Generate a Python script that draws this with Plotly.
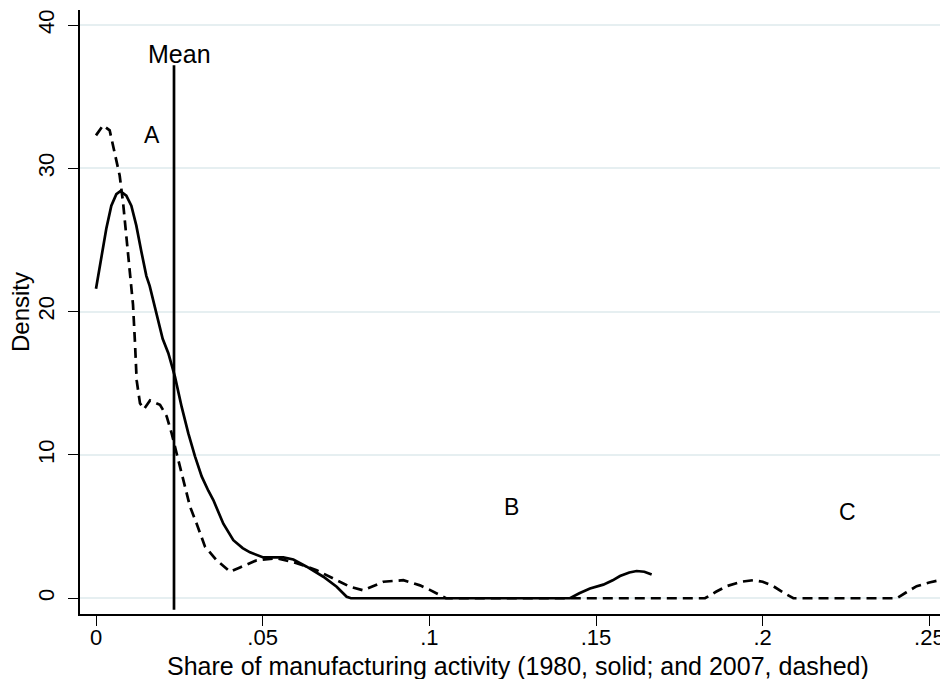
import plotly.graph_objects as go

# 1980 density (solid)
x1980 = [0.0, 0.0016, 0.0031, 0.0046, 0.0061, 0.0073, 0.0091, 0.0106, 0.0121, 0.0136,
         0.0151, 0.0161, 0.0172, 0.0187, 0.0200, 0.0217, 0.0237, 0.0257, 0.0277, 0.0297,
         0.0317, 0.0337, 0.0352, 0.0382, 0.0412, 0.0440, 0.0462, 0.0502, 0.0562, 0.0592,
         0.0632, 0.0682, 0.0722, 0.0752, 0.0765, 0.1000, 0.1200, 0.1422, 0.1450, 0.1482,
         0.1522, 0.1550, 0.1572, 0.1600, 0.1622, 0.1645, 0.1667]
y1980 = [21.6, 23.9, 25.8, 27.4, 28.2, 28.4, 28.1, 27.4, 26.0, 24.2,
         22.5, 21.8, 20.8, 19.4, 18.1, 17.1, 15.45, 13.35, 11.5, 9.9,
         8.5, 7.5, 6.85, 5.2, 4.05, 3.5, 3.2, 2.85, 2.85, 2.7,
         2.2, 1.5, 0.8, 0.1, 0.0, 0.0, 0.0, 0.0, 0.35, 0.68,
         0.95, 1.25, 1.55, 1.8, 1.9, 1.85, 1.65]

# 2007 density (dashed)
x2007 = [0.0, 0.0021, 0.0041, 0.0056, 0.0071, 0.0081, 0.0091, 0.0101, 0.0111, 0.0117,
         0.0122, 0.0132, 0.0144, 0.0162, 0.0192, 0.0212, 0.0227, 0.0242, 0.0257, 0.0282,
         0.0302, 0.0327, 0.0362, 0.0402, 0.0432, 0.0482, 0.0542, 0.0602, 0.0662, 0.0722,
         0.0762, 0.0802, 0.0835, 0.0862, 0.0922, 0.0972, 0.1000, 0.1022, 0.1050, 0.1300,
         0.1600, 0.1827, 0.1860, 0.1892, 0.1935, 0.1972, 0.2000, 0.2032, 0.2065, 0.2092,
         0.2250, 0.2402, 0.2430, 0.2462, 0.2500, 0.2532, 0.2560]
y2007 = [32.3, 33.0, 32.65, 31.15, 29.5, 27.65, 25.3, 23.2, 20.5, 17.8,
         15.2, 13.6, 13.2, 13.8, 13.5, 12.7, 11.5, 10.1, 8.7, 6.4,
         5.2, 3.6, 2.65, 1.85, 2.15, 2.65, 2.8, 2.45, 1.95, 1.25,
         0.8, 0.55, 0.85, 1.15, 1.26, 0.9, 0.6, 0.33, 0.0, 0.0,
         0.0, 0.0, 0.45, 0.84, 1.15, 1.26, 1.15, 0.84, 0.35, 0.0,
         0.0, 0.0, 0.4, 0.84, 1.1, 1.26, 1.3]

mean_x = 0.0234
mean_y = [-0.8, 37.2]

x_ticks = [0, 0.05, 0.10, 0.15, 0.20, 0.25]
x_tick_labels = ["0", ".05", ".1", ".15", ".2", ".25"]
y_ticks = [0, 10, 20, 30, 40]
y_tick_labels = ["0", "10", "20", "30", "40"]

labels_text = ["A", "B", "C"]
labels_x = [0.0168, 0.1245, 0.2253]
labels_y = [32.3, 6.35, 6.0]

FONT = "Liberation Sans, Arial, sans-serif"

fig = go.Figure()
fig.add_trace(go.Scatter(x=x2007, y=y2007, mode="lines",
                         line=dict(color="black", width=2.7, dash="10px,6px", shape="linear"),
                         showlegend=False))
fig.add_trace(go.Scatter(x=x1980, y=y1980, mode="lines",
                         line=dict(color="black", width=2.7, shape="linear"),
                         showlegend=False))
fig.add_trace(go.Scatter(x=[mean_x, mean_x], y=mean_y, mode="lines",
                         line=dict(color="black", width=2.7), showlegend=False))

fig.add_annotation(x=mean_x, y=37.95, text="Mean", showarrow=False, yanchor="middle", xshift=5,
                   font=dict(family=FONT, size=25, color="black"))
for t, lx, ly in zip(labels_text, labels_x, labels_y):
    fig.add_annotation(x=lx, y=ly, text=t, showarrow=False, yanchor="middle",
                       font=dict(family=FONT, size=23, color="black"))

# axis titles
fig.add_annotation(x=0.1266, xref="x", y=0, yref="paper", yanchor="middle", yshift=-52,
                   text="Share of manufacturing activity (1980, solid; and 2007, dashed)",
                   showarrow=False, font=dict(family=FONT, size=25, color="black"))
fig.add_annotation(x=0, xref="paper", xanchor="center", xshift=-60, y=0.5, yref="paper",
                   yanchor="middle", textangle=-90,
                   text="Density", showarrow=False, font=dict(family=FONT, size=24, color="black"))

# page body has an 8px margin, so the figure is 8px smaller than the window
fig.update_layout(
    width=940, height=671,
    margin=dict(l=72, r=0, t=2, b=65),
    paper_bgcolor="white", plot_bgcolor="white",
    font=dict(family=FONT, color="black"),
    xaxis=dict(range=[-0.0048, 0.2556], tickvals=x_ticks, ticktext=x_tick_labels,
               showgrid=False, zeroline=False, showline=True, linecolor="black", linewidth=1.5,
               ticks="outside", ticklen=10, tickcolor="black", tickwidth=1.2,
               tickfont=dict(size=22), automargin=False, ticklabelstandoff=-7),
    yaxis=dict(range=[-1.1, 41.05], tickvals=y_ticks, ticktext=y_tick_labels, tickangle=-90,
               showgrid=True, gridcolor="#e6eff1", gridwidth=1.5, zeroline=False,
               showline=True, linecolor="black", linewidth=1.5,
               ticks="outside", ticklen=10, tickcolor="black", tickwidth=1.2,
               tickfont=dict(size=22), automargin=False, ticklabelstandoff=5),
)

fig.write_html("out.html")
